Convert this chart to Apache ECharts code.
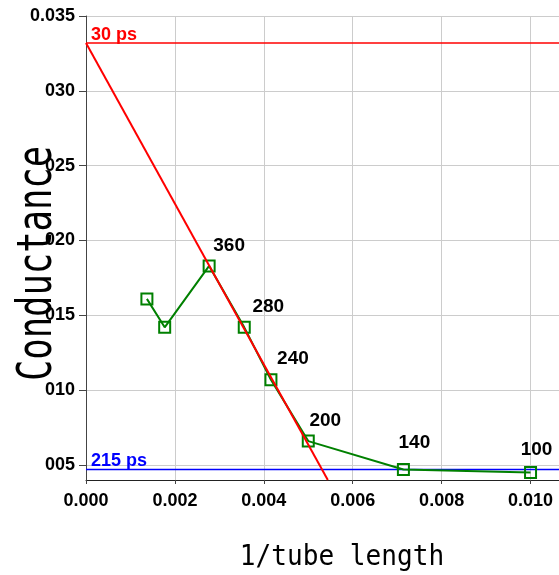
<!DOCTYPE html>
<html><head><meta charset="utf-8">
<script src="https://cdn.jsdelivr.net/npm/echarts@6/dist/echarts.min.js"></script>
<style>html,body{margin:0;padding:0;background:#fff}#c{width:559px;height:575px}</style>
</head><body><div id="c"></div>
<script>
// ---- data ----
const invLength = [0.00137, 0.00177, 0.00277, 0.00356, 0.00416, 0.0050, 0.00714, 0.0100];
const conductance = [0.0161, 0.0142, 0.0183, 0.0142, 0.0107, 0.0066, 0.0047, 0.0045];
const pointLabels = ['', '', '360', '280', '240', '200', '140', '100'];
const fitX = [0, 0.00544];
const fitY = [0.0332, 0.0040];
const refValues = [0.0332, 0.0047];
const refLabels = ['30 ps', '215 ps'];
const xRange = [0, 0.011];
const yTicks = [0.005, 0.010, 0.015, 0.020, 0.025, 0.030, 0.035];
const xAxisName = '1/tube length';
const yAxisName = 'Conductance';

// ---- styles ----
const labelOffsets = [[0,0],[0,0],[20,-20],[24,-21],[22,-21],[17,-20],[11,-27],[6,-23]];
const refColors = ['#ff0000', '#0000ff'];
const refWidths = [1.5, 1.3];
const boldFont = "'Liberation Sans','Arial',sans-serif";

const refSeries = refValues.map((v, i) => ({
  type: 'line',
  data: xRange.map((x, j) => ({
    value: [x, v],
    label: {show: j === 0, formatter: refLabels[i], position: [5, -8], align: 'left', verticalAlign: 'middle',
      color: refColors[i], fontFamily: boldFont, fontWeight: 'bold', fontSize: 18}
  })),
  symbol: 'circle', symbolSize: 0.01, showSymbol: true,
  itemStyle: {color: refColors[i]},
  lineStyle: {color: refColors[i], width: refWidths[i]},
  z: 2, silent: true
}));

const chart = echarts.init(document.getElementById('c'), null, {renderer: 'canvas'});
chart.setOption({
  animation: false,
  backgroundColor: '#ffffff',
  grid: {left: 86, top: 16, bottom: 95, width: 489, containLabel: false, outerBoundsMode: 'none'},
  xAxis: {
    type: 'value', min: xRange[0], max: xRange[1], interval: 0.002,
    axisLine: {show: true, lineStyle: {color: '#222', width: 1}},
    axisTick: {show: true, length: 4, lineStyle: {color: '#444'}},
    splitLine: {show: true, lineStyle: {color: '#cccccc', width: 1}},
    axisLabel: {
      margin: 12, fontFamily: boldFont, fontWeight: 'bold', fontSize: 18, color: '#000',
      showMaxLabel: false,
      formatter: v => v.toFixed(3)
    }
  },
  yAxis: {
    type: 'value', min: 0.004, max: 0.035,
    axisLine: {show: true, lineStyle: {color: '#444', width: 1}},
    axisTick: {show: true, length: 7, lineStyle: {color: '#444'}, customValues: yTicks},
    splitLine: {show: true, lineStyle: {color: '#cccccc', width: 1}},
    axisLabel: {
      margin: 11, fontFamily: boldFont, fontWeight: 'bold', fontSize: 18, color: '#000',
      customValues: yTicks,
      formatter: v => (Math.abs(v - 0.035) < 1e-9 ? '0.035' : v.toFixed(3).slice(2))
    }
  },
  graphic: [
    {type: 'text', x: 342, y: 557, scaleX: 0.9, style: {
      text: xAxisName, font: "29px 'DejaVu Sans Mono', monospace", fill: '#000',
      textAlign: 'center', textVerticalAlign: 'middle'}},
    {type: 'text', x: 38.5, y: 263.5, rotation: Math.PI / 2, scaleX: 0.74, style: {
      text: yAxisName, font: "48px 'DejaVu Sans Mono', monospace", fill: '#000',
      textAlign: 'center', textVerticalAlign: 'middle'}}
  ],
  series: refSeries.concat([
    {
      type: 'line',
      data: invLength.map((x, i) => ({
        value: [x, conductance[i]],
        label: {show: pointLabels[i] !== '', formatter: pointLabels[i], position: 'inside', offset: labelOffsets[i]}
      })),
      symbol: 'rect', symbolSize: 11, showSymbol: true,
      itemStyle: {color: 'rgba(0,0,0,0)', borderColor: '#008000', borderWidth: 2},
      lineStyle: {color: '#008000', width: 2},
      label: {color: '#000', fontFamily: boldFont, fontWeight: 'bold', fontSize: 19},
      z: 3
    },
    {
      type: 'line',
      data: fitX.map((x, i) => [x, fitY[i]]),
      symbol: 'none',
      lineStyle: {color: '#ff0000', width: 2},
      z: 4
    }
  ])
});
</script>
</body></html>
